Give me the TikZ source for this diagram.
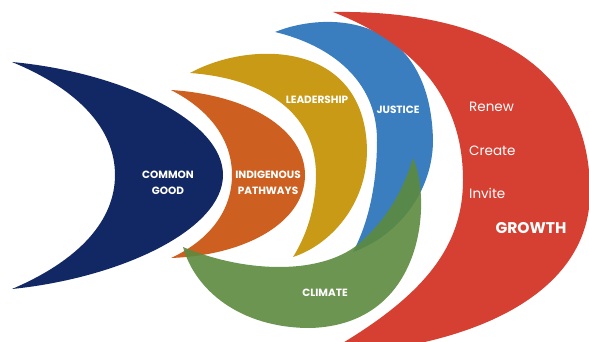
\documentclass[tikz,border=0pt]{standalone}
\usepackage{fontspec}
\setmainfont{Poppins}
\usetikzlibrary{positioning}
\definecolor{goodblue}{RGB}{18,40,100}
\definecolor{pathorange}{RGB}{205,96,32}
\definecolor{leadyellow}{RGB}{200,154,22}
\definecolor{justblue}{RGB}{58,126,192}
\definecolor{climgreen}{RGB}{92,138,62}
\definecolor{growred}{RGB}{214,64,50}
\begin{document}
\begin{tikzpicture}[x=1pt,y=-1pt,
  bandtext/.style={text=white,font=\bfseries\fontsize{10.5}{16}\selectfont,align=center,inner sep=0pt},
  verbtext/.style={text=white,font=\fontsize{13.5}{15}\selectfont,anchor=west,inner sep=0pt}]
\useasboundingbox (0,0) rectangle (589,342);
\clip (0,0) rectangle (589,342);
\fill[white] (0,0) rectangle (589,342);
% common good
\fill[goodblue] (12,62) .. controls (120,72) and (223,120) .. (223,175) .. controls (223,230) and (120,278) .. (12,289)
  .. controls (80,260) and (115,220) .. (115,175) .. controls (115,130) and (80,90) .. (12,62) -- cycle;
% indigenous pathways
\fill[pathorange] (171,90) .. controls (250,95) and (305,130) .. (305,175) .. controls (305,220) and (250,255) .. (171,258)
  .. controls (210,240) and (232,210) .. (232,175) .. controls (232,140) and (210,110) .. (171,90) -- cycle;
% leadership
\fill[leadyellow] (190,73) .. controls (250,40) and (365,40) .. (367,150) .. controls (367,205) and (330,245) .. (293,257)
  .. controls (310,230) and (316,200) .. (316,175) .. controls (316,110) and (260,78) .. (190,73) -- cycle;
% justice
\fill[justblue] (275,32) .. controls (330,10) and (430,15) .. (433,140) .. controls (433,190) and (400,235) .. (353,252)
  .. controls (370,220) and (377,180) .. (377,140) .. controls (377,80) and (330,45) .. (275,32) -- cycle;
% climate
\fill[climgreen,opacity=.9] (413,158) .. controls (432,200) and (425,325) .. (310,328) .. controls (240,328) and (195,290) .. (183,247)
  .. controls (250,275) and (330,275) .. (365,238) .. controls (390,215) and (405,185) .. (413,158) -- cycle;
% growth
\fill[growred] (333,12) .. controls (470,10) and (590,55) .. (590,192) .. controls (590,300) and (460,350) .. (322,355)
  .. controls (420,300) and (463,250) .. (463,180) .. controls (463,90) and (405,40) .. (333,12) -- cycle;
% labels
\node[bandtext] (good) at (168,183) {COMMON\\GOOD};
\node[bandtext] (path) at (268,183) {INDIGENOUS\\PATHWAYS};
\node[bandtext] (lead) at (317,100) {LEADERSHIP};
\node[bandtext] (just) at (398,110) {JUSTICE};
\node[bandtext] (clim) at (325,293) {CLIMATE};
\node[verbtext] (renew) at (469,107) {Renew};
\node[verbtext] (create) at (469,151) {Create};
\node[verbtext] (invite) at (469,193) {Invite};
\node[bandtext,font=\bfseries\fontsize{15.5}{18}\selectfont] (grow) at (531,228) {GROWTH};
\end{tikzpicture}
\end{document}
